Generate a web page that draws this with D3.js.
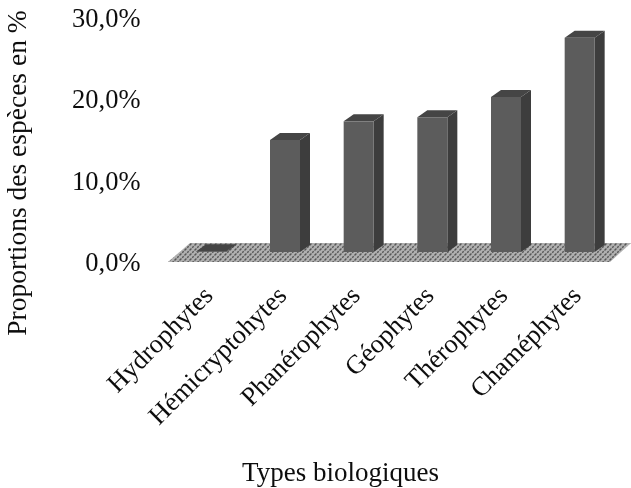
<!DOCTYPE html>
<html>
<head>
<meta charset="utf-8">
<script src="https://cdn.jsdelivr.net/npm/d3@7"></script>
<style>
html, body { margin: 0; padding: 0; background: #fff; }
svg { display: block; }
text { font-family: "Liberation Serif", serif; fill: #111; }
</style>
</head>
<body>
<svg id="chart" width="631" height="488"></svg>
<script>
var categories = ["Hydrophytes", "Hémicryptohytes", "Phanérophytes", "Géophytes", "Thérophytes", "Chaméphytes"];
var values = [0.1, 13.8, 16.1, 16.6, 19.1, 26.4];
var tickValues = [0, 10, 20, 30];
var tickLabels = ["0,0%", "10,0%", "20,0%", "30,0%"];

var svg = d3.select("#chart");

// front plane of the fake 3D box, bars sit a little behind it
const floorFront = 262, floorBack = 243;
const barOffset = 10;
const depthX = 10, depthY = 7;
const barWidth = 30;

var yScale = d3.scaleLinear().domain([0, 30]).range([floorFront, 18.5]);
var xScale = d3.scaleBand().domain(categories).range([169.5, 611.5]).paddingInner(0).paddingOuter(0);

var defs = svg.append("defs");
var pattern = defs.append("pattern")
    .attr("id", "floor_pattern")
    .attr("patternUnits", "userSpaceOnUse")
    .attr("width", 5).attr("height", 5);
pattern.append("rect").attr("width", 5).attr("height", 5).attr("fill", "#b0b0b0");
pattern.append("path")
    .attr("d", "M0,5L5,0M-1,1L1,-1M4,6L6,4")
    .attr("stroke", "#555555").attr("stroke-width", 1.4)
    .attr("stroke-dasharray", "2 1.2");

var blur = defs.append("filter").attr("id", "soft");
blur.append("feGaussianBlur").attr("stdDeviation", 0.6);
var textBlur = defs.append("filter").attr("id", "soft_text");
textBlur.append("feGaussianBlur").attr("stdDeviation", 0.3);

var floorPoints = [[168, floorFront], [190, floorBack], [631, floorBack], [610, floorFront]];
svg.append("path")
    .attr("d", d3.line()(floorPoints) + "Z")
    .attr("fill", "url(#floor_pattern)")
    .attr("filter", "url(#soft)");

var barGroup = svg.append("g").attr("class", "bars").attr("filter", "url(#soft)");
var bars = barGroup.selectAll("g.bar")
    .data(categories.map((name, i) => ({name: name, value: values[i]})))
    .enter().append("g").classed("bar", true);

function barLeft(datum) {
    return xScale(datum.name) + (xScale.bandwidth() - barWidth) / 2 + 5;
}
function barTop(datum) {
    return yScale(datum.value) - barOffset;
}
const barBottom = yScale(0) - barOffset;

// side face
bars.append("path")
    .attr("fill", "#3d3d3d")
    .attr("d", function(datum) {
        var x = barLeft(datum) + barWidth;
        var top = barTop(datum);
        return d3.line()([[x, top], [x + depthX, top - depthY], [x + depthX, barBottom - depthY], [x, barBottom]]) + "Z";
    });
// top face
bars.append("path")
    .attr("fill", "#444444")
    .attr("d", function(datum) {
        var x = barLeft(datum);
        var top = barTop(datum);
        return d3.line()([[x, top], [x + depthX, top - depthY], [x + barWidth + depthX, top - depthY], [x + barWidth, top]]) + "Z";
    });
// front face
bars.append("rect")
    .attr("fill", "#5b5b5b")
    .attr("x", datum => barLeft(datum))
    .attr("y", datum => barTop(datum))
    .attr("width", barWidth)
    .attr("height", datum => barBottom - barTop(datum));

var textGroup = svg.append("g").attr("filter", "url(#soft_text)");

textGroup.append("g").selectAll("text")
    .data(tickValues).enter()
    .append("text")
    .attr("x", 140.5)
    .attr("y", datum => yScale(datum))
    .attr("dy", "0.33em")
    .attr("text-anchor", "end")
    .attr("font-size", 26.5)
    .text((datum, i) => tickLabels[i]);

textGroup.append("g").selectAll("text")
    .data(categories).enter()
    .append("text")
    .attr("text-anchor", "end")
    .attr("font-size", 26.5)
    .attr("transform", datum => "translate(" + (xScale(datum) + xScale.bandwidth() / 2 + 8) + ",297) rotate(-45)")
    .text(datum => datum);

textGroup.append("text")
    .attr("x", 340.5)
    .attr("y", 481)
    .attr("text-anchor", "middle")
    .attr("font-size", 27)
    .text("Types biologiques");

textGroup.append("text")
    .attr("transform", "translate(26,173) rotate(-90)")
    .attr("text-anchor", "middle")
    .attr("font-size", 27.5)
    .text("Proportions des espèces en %");
</script>
</body>
</html>
